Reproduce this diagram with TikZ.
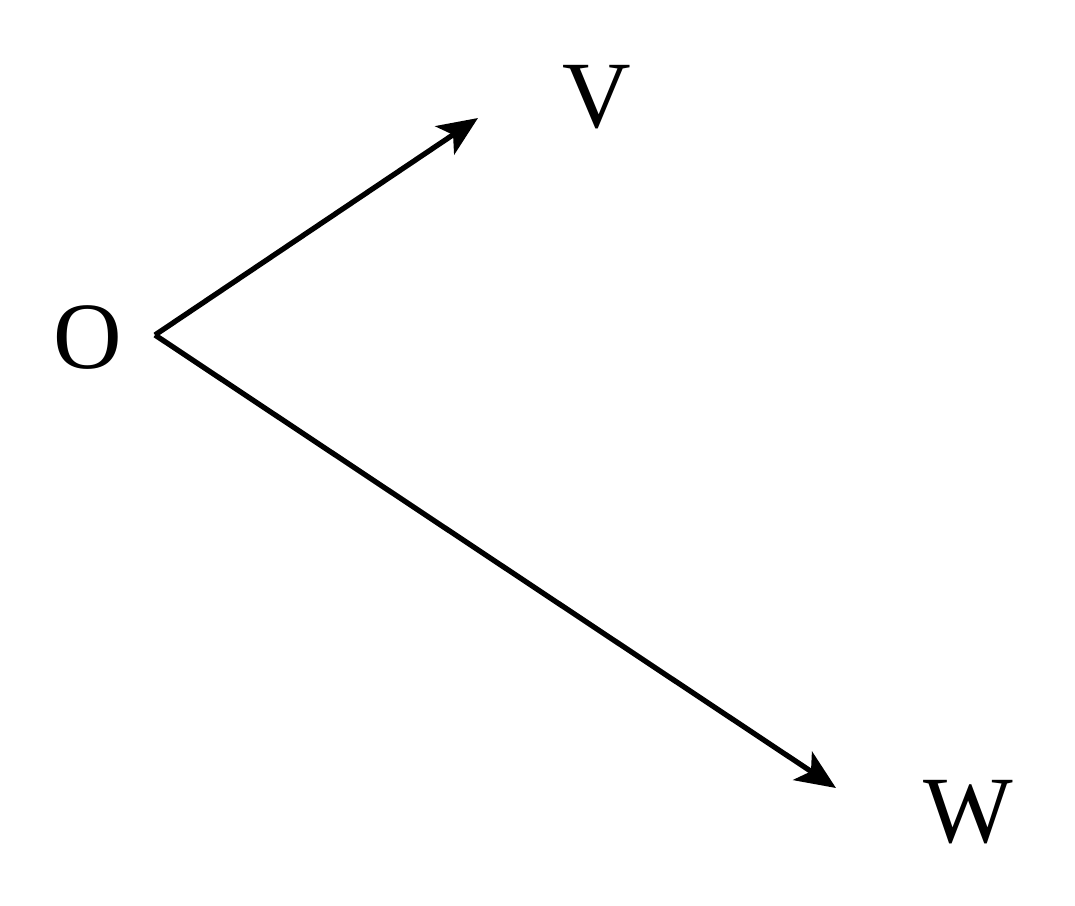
\documentclass[tikz,border=0pt]{standalone}
\usepackage{fontspec}
\setmainfont{Liberation Serif}
\usetikzlibrary{positioning,arrows.meta}
\tikzset{myarrow/.style={-{Stealth[length=4mm, width=3.4mm, inset=1mm]}, line width=1.5pt}}
\tikzset{beschriftung/.style={font=\fontsize{27}{0}\selectfont}}

\begin{document}
\begin{tikzpicture}[x=0.01cm, y=-0.01cm]
		\useasboundingbox (0,0) rectangle (1075,905);
		
		\coordinate (o) at (155,335);
		\coordinate (v) at (478,118);
		\coordinate (w) at (836,788);
		
		\node[beschriftung] (OText) at (88,338) {O};
		\node[beschriftung] (VText) at (597,97) {V};
		\node[beschriftung] (WText) at (968,812) {W};
		
		\draw[myarrow] (o) -- (v);
		\draw[myarrow] (o) -- (w);
	\end{tikzpicture}
\end{document}
